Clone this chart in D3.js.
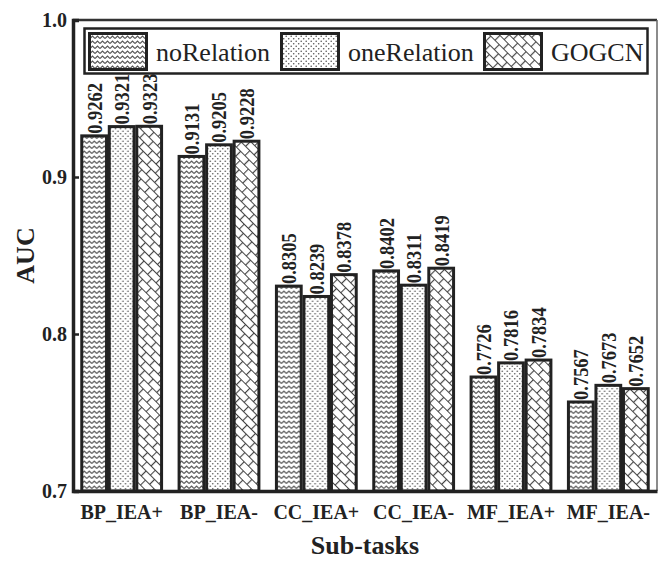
<!DOCTYPE html>
<html>
<head>
<meta charset="utf-8">
<script src="https://cdn.jsdelivr.net/npm/d3@7"></script>
<style>
  body { margin: 0; background: #fff; }
  text { font-family: "Liberation Serif", "Times New Roman", serif; }
</style>
</head>
<body>
<svg id="chart" width="659" height="561"></svg>
<script>
var tasks = ["BP_IEA+", "BP_IEA-", "CC_IEA+", "CC_IEA-", "MF_IEA+", "MF_IEA-"];
var seriesNames = ["noRelation", "oneRelation", "GOGCN"];
var noRelation = [0.9262, 0.9131, 0.8305, 0.8402, 0.7726, 0.7567];
var oneRelation = [0.9321, 0.9205, 0.8239, 0.8311, 0.7816, 0.7673];
var gogcn = [0.9323, 0.9228, 0.8378, 0.8419, 0.7834, 0.7652];
var yTicks = [0.7, 0.8, 0.9, 1.0];

var seriesValues = [noRelation, oneRelation, gogcn];
var fills = ["url(#wave)", "url(#dots)", "url(#brick)"];

var plotLeft = 73, plotRight = 657, plotTop = 20, plotBottom = 491;

var svg = d3.select("#chart");
var defs = svg.append("defs");

// wavy pattern
var pw = defs.append("pattern").attr("id", "wave")
    .attr("patternUnits", "userSpaceOnUse").attr("width", 5).attr("height", 5);
pw.append("rect").attr("width", 5).attr("height", 5).attr("fill", "#fff");
pw.append("path").attr("d", "M0,3.5 L2.5,1 L5,3.5")
    .attr("fill", "none").attr("stroke", "#555").attr("stroke-width", 1.1);

// dotted pattern
var pd = defs.append("pattern").attr("id", "dots")
    .attr("patternUnits", "userSpaceOnUse").attr("width", 5).attr("height", 5);
pd.append("rect").attr("width", 5).attr("height", 5).attr("fill", "#fff");
pd.append("circle").attr("cx", 1.2).attr("cy", 1.2).attr("r", 0.8).attr("fill", "#555");
pd.append("circle").attr("cx", 3.7).attr("cy", 3.7).attr("r", 0.8).attr("fill", "#555");

// diagonal brick pattern
var pb = defs.append("pattern").attr("id", "brick")
    .attr("patternUnits", "userSpaceOnUse").attr("width", 12).attr("height", 14)
    .attr("patternTransform", "rotate(45)");
pb.append("rect").attr("width", 12).attr("height", 14).attr("fill", "#fff");
pb.append("path").attr("d", "M0,0.5 H12 M0,7.5 H12 M0.5,0.5 V7.5 M6.5,7.5 V14.5")
    .attr("fill", "none").attr("stroke", "#444").attr("stroke-width", 1.2);

var x0 = d3.scaleBand().domain(tasks).range([plotLeft, plotRight])
    .paddingInner(0.18).paddingOuter(0.09);
var x1 = d3.scaleBand().domain(seriesNames).range([0, x0.bandwidth()]).paddingInner(0.1);
var y = d3.scaleLinear().domain([0.7, 1.0]).range([plotBottom, plotTop]);

// bars
tasks.forEach(function(t, i) {
    var g = svg.append("g").attr("transform", "translate(" + x0(t) + ",0)");
    seriesNames.forEach(function(s, j) {
        var v = seriesValues[j][i];
        g.append("rect")
            .attr("x", x1(s))
            .attr("y", y(v))
            .attr("width", x1.bandwidth())
            .attr("height", plotBottom - y(v))
            .attr("fill", fills[j])
            .attr("stroke", "#222")
            .attr("stroke-width", 3);
        var cx = x1(s) + x1.bandwidth() / 2;
        g.append("text")
            .attr("transform", "translate(" + cx + "," + (y(v) - 2) + ") rotate(-90) scale(1,1.15)")
            .attr("dy", "0.35em")
            .attr("font-size", 18.5)
            .attr("font-weight", "bold")
            .attr("fill", "#222")
            .text(d3.format(".4f")(v));
    });
});

// frame top / right
svg.append("line").attr("x1", plotLeft).attr("x2", plotRight).attr("y1", plotTop).attr("y2", plotTop)
    .attr("stroke", "#333").attr("stroke-width", 2.5);
svg.append("line").attr("x1", plotRight).attr("x2", plotRight).attr("y1", plotTop).attr("y2", plotBottom)
    .attr("stroke", "#666").attr("stroke-width", 1.5);

// y axis
var yAxis = svg.append("g").attr("transform", "translate(" + plotLeft + ",0)")
    .call(d3.axisLeft(y).tickValues(yTicks).tickFormat(d3.format(".1f")).tickSize(-6).tickPadding(6));
yAxis.select(".domain").attr("stroke", "#222").attr("stroke-width", 3.5);
yAxis.selectAll(".tick line").attr("stroke", "#222").attr("stroke-width", 2.5);
yAxis.selectAll(".tick text")
    .attr("font-family", "Liberation Serif").attr("font-size", 20).attr("font-weight", "bold").attr("fill", "#222");

// x axis
var xAxis = svg.append("g").attr("transform", "translate(0," + plotBottom + ")")
    .call(d3.axisBottom(x0).tickSize(0).tickPadding(14));
xAxis.select(".domain").attr("stroke", "#222").attr("stroke-width", 3.5);
xAxis.selectAll(".tick text")
    .attr("font-family", "Liberation Serif").attr("font-size", 20).attr("font-weight", "bold").attr("fill", "#222");

// axis titles
svg.append("text").attr("x", (plotLeft + plotRight) / 2).attr("y", 554)
    .attr("text-anchor", "middle").attr("font-size", 26).attr("font-weight", "bold").attr("fill", "#222")
    .text("Sub-tasks");
svg.append("text").attr("transform", "translate(34," + (plotTop + plotBottom) / 2 + ") rotate(-90)")
    .attr("text-anchor", "middle").attr("font-size", 26).attr("font-weight", "bold").attr("fill", "#222")
    .text("AUC");

// legend
var legend = svg.append("g");
legend.append("rect").attr("x", 84.5).attr("y", 28.5).attr("width", 563).attr("height", 45)
    .attr("fill", "#fff").attr("stroke", "#222").attr("stroke-width", 2.5);
var swatchX = [88, 280, 483];
seriesNames.forEach(function(s, j) {
    legend.append("rect").attr("x", swatchX[j] + 1.5).attr("y", 33.5).attr("width", 57).attr("height", 36)
        .attr("fill", fills[j]).attr("stroke", "#222").attr("stroke-width", 3);
    legend.append("text").attr("x", swatchX[j] + 68).attr("y", 61)
        .attr("font-size", 26).attr("fill", "#222").text(s);
});
</script>
</body>
</html>
